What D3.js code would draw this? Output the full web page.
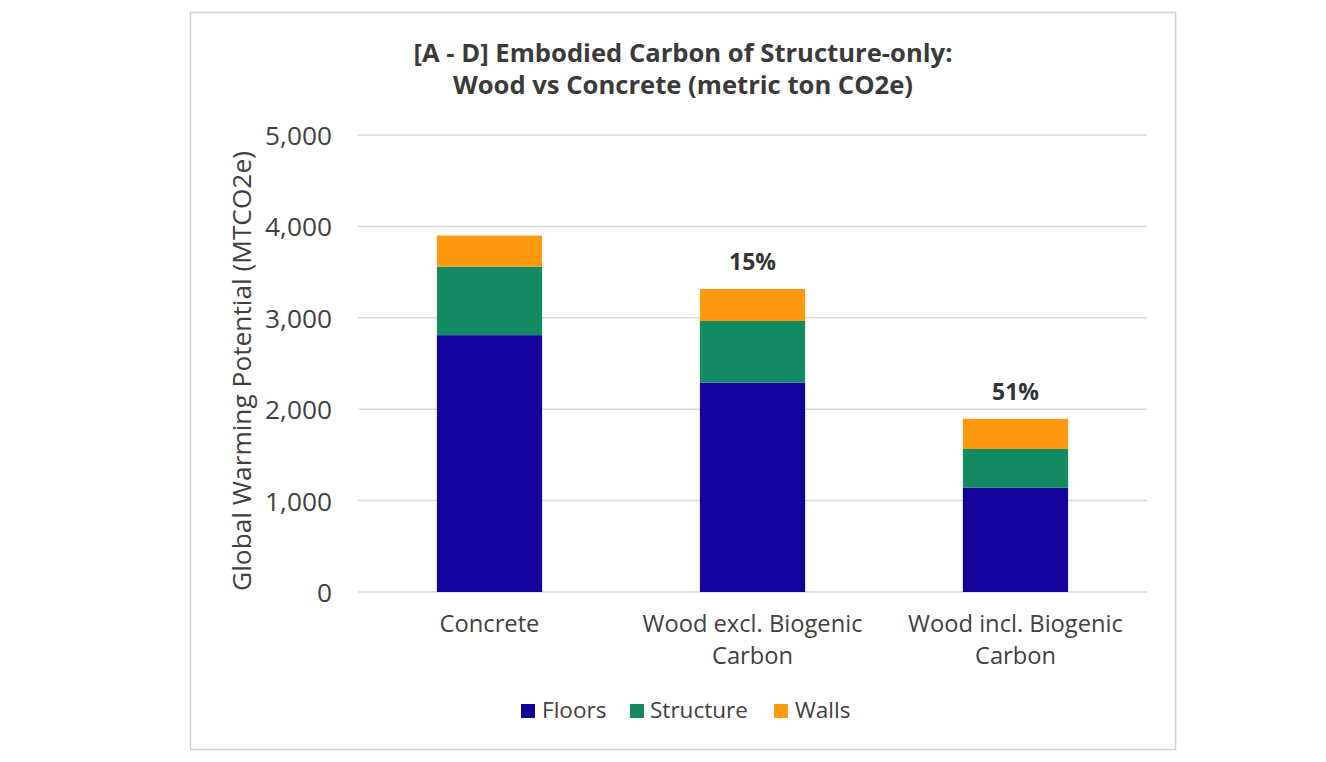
<!DOCTYPE html>
<html><head><meta charset="utf-8">
<script src="https://cdn.jsdelivr.net/npm/d3@7"></script>
<style>body{margin:0;background:#fff}svg{display:block}text{font-family:"Open Sans","DejaVu Sans",sans-serif}</style>
</head><body><svg id="c" width="1326" height="762"></svg>
<script>
const categories = [["Concrete"], ["Wood excl. Biogenic", "Carbon"], ["Wood incl. Biogenic", "Carbon"]];
const seriesNames = ["Floors", "Structure", "Walls"];
const floors = [2810, 2290, 1140];
const structure = [750, 675, 425];
const walls = [340, 350, 330];
const pctLabels = ["", "15%", "51%"];
const yTicks = [0, 1000, 2000, 3000, 4000, 5000];
const colors = ["#14009a", "#138a63", "#ff990f"];
const titleLines = ["[A - D] Embodied Carbon of Structure-only:", "Wood vs Concrete (metric ton CO2e)"];
const yTitle = "Global Warming Potential (MTCO2e)";

const svg = d3.select("#c");
function fitSize(str, target, weight) {
  const t = svg.append("text").attr("font-size", 100).attr("font-weight", weight || 400).text(str);
  const w = t.node().getComputedTextLength();
  t.remove();
  return 100 * target / w;
}
const fsTitle = fitSize(titleLines[0], 539, 700);
const fsTick = fitSize("5,000", 67);
const fsYTitle = fitSize(yTitle, 440);
const fsCat = fitSize("Wood excl. Biogenic", 220);
const fsLeg = fitSize("Structure", 98);
const fsPct = fitSize("15%", 47, 700);

svg.append("rect").attr("x", 190.5).attr("y", 12.5).attr("width", 985).attr("height", 737)
  .attr("fill", "#fff").attr("stroke", "#d0d0d0").attr("stroke-width", 1.5);

const x = d3.scaleBand().domain(d3.range(categories.length)).range([358, 1147]).paddingInner(0.6).paddingOuter(0.3);
const y = d3.scaleLinear().domain([0, 5000]).range([592, 135]);

svg.append("g").selectAll("line").data(yTicks).join("line")
  .attr("x1", 358).attr("x2", 1147).attr("y1", d => y(d)).attr("y2", d => y(d))
  .attr("stroke", "#d9d9d9").attr("stroke-width", 1.5);

const yAxis = d3.axisLeft(y).tickValues(yTicks).tickFormat(d3.format(",")).tickSize(0).tickPadding(0);
const ya = svg.append("g").attr("transform", "translate(332,0)").call(yAxis);
ya.select(".domain").remove();
ya.selectAll("text").attr("font-size", fsTick).attr("fill", "#404040").attr("dy", "0.36em")
  .style("font-family", "'Open Sans','DejaVu Sans',sans-serif");

const rows = categories.map((c, i) => ({i, Floors: floors[i], Structure: structure[i], Walls: walls[i]}));
const stack = d3.stack().keys(seriesNames)(rows);
svg.append("g").selectAll("g").data(stack).join("g").attr("fill", (d, k) => colors[k])
  .selectAll("rect").data(d => d).join("rect")
  .attr("x", d => x(d.data.i)).attr("width", x.bandwidth())
  .attr("y", d => y(d[1])).attr("height", d => y(d[0]) - y(d[1]));

svg.append("g").selectAll("text").data(rows).join("text")
  .attr("x", d => x(d.i) + x.bandwidth() / 2)
  .attr("y", d => y(d.Floors + d.Structure + d.Walls) - 19)
  .attr("text-anchor", "middle").attr("font-size", fsPct).attr("font-weight", 700).attr("fill", "#333")
  .text(d => pctLabels[d.i]);

const cat = svg.append("g").selectAll("text").data(categories).join("text")
  .attr("text-anchor", "middle").attr("font-size", fsCat).attr("fill", "#404040")
  .attr("transform", (d, i) => `translate(${x(i) + x.bandwidth() / 2},632)`);
cat.selectAll("tspan").data(d => d).join("tspan").attr("x", 0).attr("y", (d, j) => j * 32).text(d => d);

svg.append("text").attr("transform", "translate(251,371) rotate(-90)").attr("text-anchor", "middle")
  .attr("font-size", fsYTitle).attr("fill", "#404040").text(yTitle);

const title = svg.append("text").attr("text-anchor", "middle").attr("font-size", fsTitle).attr("font-weight", 700).attr("fill", "#3a3a3a");
title.selectAll("tspan").data(titleLines).join("tspan")
  .attr("x", 683).attr("y", (d, i) => 62 + i * 32).text(d => d);

const legSq = [521, 630, 774];
const legTx = [542, 650, 795];
const lg = svg.append("g").selectAll("g").data(seriesNames).join("g");
lg.append("rect").attr("x", (d, i) => legSq[i]).attr("y", 704).attr("width", 14).attr("height", 14).attr("fill", (d, i) => colors[i]);
lg.append("text").attr("x", (d, i) => legTx[i]).attr("y", 718).attr("font-size", fsLeg).attr("fill", "#404040").text(d => d);
</script></body></html>
